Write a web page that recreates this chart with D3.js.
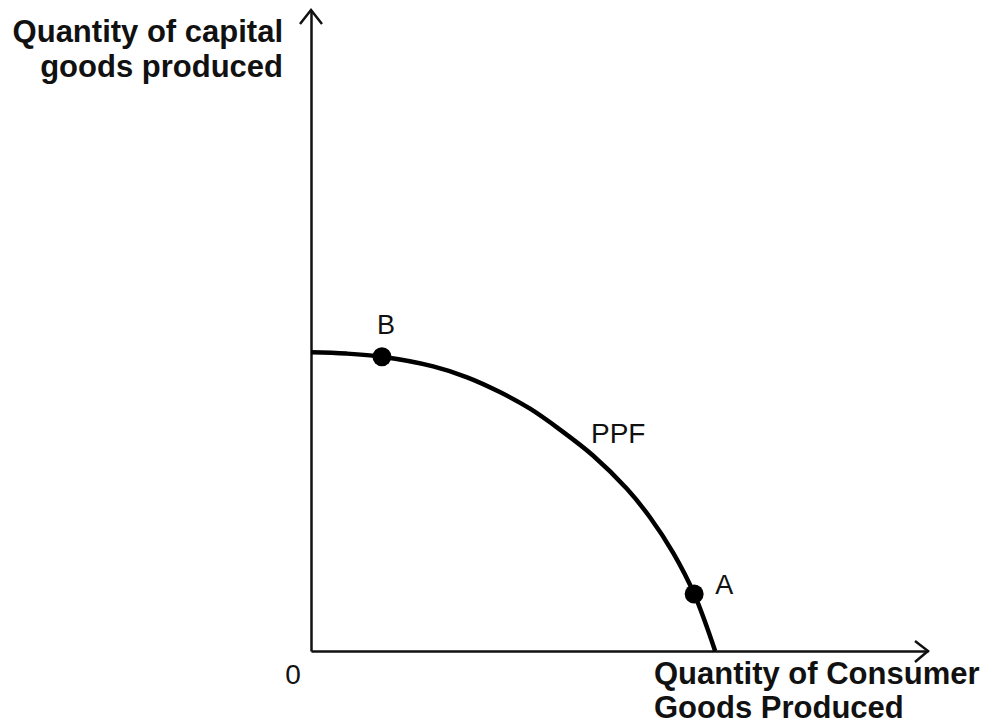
<!DOCTYPE html>
<html>
<head>
<meta charset="utf-8">
<script src="https://cdn.jsdelivr.net/npm/d3@7"></script>
<style>
  body { margin: 0; background: #fff; }
  svg { display: block; font-family: 'Liberation Sans', Arial, sans-serif; }
</style>
</head>
<body>
<div id="chart"></div>
<script>
// PPF curve (0-100 units along each axis)
const ppfX = [0, 5.7, 11.5, 19.8, 25.3, 30.6, 35.5, 40.4, 45.7, 51.2, 54.9, 58.7, 62.1, 65.5];
const ppfY = [46.6, 46.4, 45.9, 44.4, 42.7, 40.4, 37.8, 34.5, 30.5, 25.3, 20.9, 15.3, 8.9, 0];

const pointNames = ['B', 'A'];
const pointX = [11.5, 62.1];
const pointY = [45.9, 8.9];

const yTitle = ['Quantity of capital', 'goods produced'];
const xTitle = ['Quantity of Consumer', 'Goods Produced'];
const originLabel = '0';

const width = 990;
const height = 725;

const svg = d3.select('#chart')
    .append('svg')
    .attr('width', width)
    .attr('height', height)
    .attr('viewBox', [0, 0, width, height]);

const x = d3.scaleLinear()
    .domain([0, 100])
    .range([311, 928]);

const y = d3.scaleLinear()
    .domain([0, 100])
    .range([651, 10]);

// axes (no ticks, just the lines)
svg.append('g')
    .attr('transform', `translate(0, ${y(0)})`)
    .call(d3.axisBottom(x).tickValues([]).tickSizeOuter(0))
    .call(g => g.select('.domain').attr('stroke', '#111').attr('stroke-width', 2.5));

svg.append('g')
    .attr('transform', `translate(${x(0)}, 0)`)
    .call(d3.axisLeft(y).tickValues([]).tickSizeOuter(0))
    .call(g => g.select('.domain').attr('stroke', '#111').attr('stroke-width', 2.5));

// open arrow heads at the axis ends
const tipX = [x(100), y(0)];
const tipY = [x(0), y(100)];
svg.append('path')
    .attr('d', `M${tipX[0] - 13},${tipX[1] - 10}L${tipX[0]},${tipX[1]}L${tipX[0] - 13},${tipX[1] + 11}`)
    .attr('fill', 'none')
    .attr('stroke', '#111')
    .attr('stroke-width', 2.5);
svg.append('path')
    .attr('d', `M${tipY[0] - 11},${tipY[1] + 14}L${tipY[0]},${tipY[1]}L${tipY[0] + 11},${tipY[1] + 14}`)
    .attr('fill', 'none')
    .attr('stroke', '#111')
    .attr('stroke-width', 2.5);

// PPF curve
const line = d3.line()
    .x(i => x(ppfX[i]))
    .y(i => y(ppfY[i]))
    .curve(d3.curveCatmullRom.alpha(0.5));

svg.append('path')
    .attr('d', line(d3.range(ppfX.length)))
    .attr('fill', 'none')
    .attr('stroke', '#000')
    .attr('stroke-width', 4.5);

// points A and B
svg.append('g')
    .selectAll('circle')
    .data(d3.range(pointNames.length))
    .join('circle')
        .attr('cx', i => x(pointX[i]))
        .attr('cy', i => y(pointY[i]))
        .attr('r', 9.5)
        .attr('fill', '#000');

svg.append('text')
    .attr('x', x(pointX[0]) + 4)
    .attr('y', y(pointY[0]) - 23)
    .attr('text-anchor', 'middle')
    .attr('font-size', 27)
    .attr('fill', '#111')
    .text(pointNames[0]);

svg.append('text')
    .attr('x', x(pointX[1]) + 21)
    .attr('y', y(pointY[1]))
    .attr('font-size', 27)
    .attr('fill', '#111')
    .text(pointNames[1]);

svg.append('text')
    .attr('x', 591)
    .attr('y', 443)
    .attr('font-size', 28)
    .attr('fill', '#111')
    .text('PPF');

svg.append('text')
    .attr('x', x(0) - 18)
    .attr('y', y(0) + 33)
    .attr('text-anchor', 'middle')
    .attr('font-size', 28)
    .attr('fill', '#111')
    .text(originLabel);

// axis titles
svg.append('text')
    .attr('text-anchor', 'end')
    .attr('font-size', 31)
    .attr('font-weight', 'bold')
    .attr('fill', '#111')
    .selectAll('tspan')
    .data(yTitle)
    .join('tspan')
        .attr('x', 283)
        .attr('y', (d, i) => 42 + i * 35)
        .text(d => d);

svg.append('text')
    .attr('font-size', 31)
    .attr('font-weight', 'bold')
    .attr('fill', '#111')
    .selectAll('tspan')
    .data(xTitle)
    .join('tspan')
        .attr('x', 654)
        .attr('y', (d, i) => 684 + i * 34)
        .text(d => d);
</script>
</body>
</html>
